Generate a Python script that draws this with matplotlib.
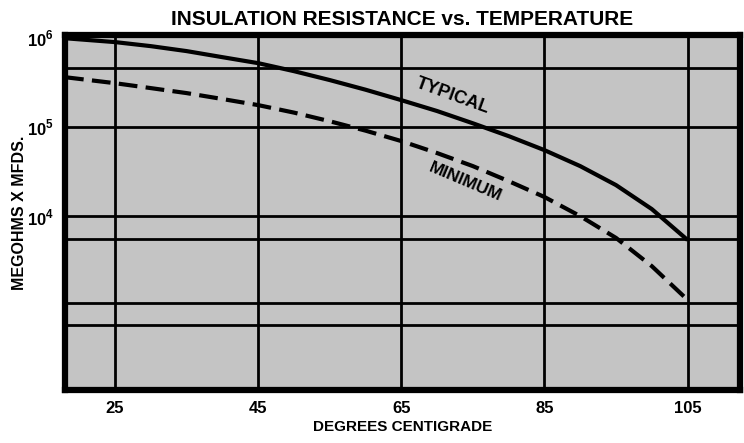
import numpy as np
import matplotlib
matplotlib.use('Agg')
import matplotlib.pyplot as plt

plt.rcParams['font.family'] = ['Liberation Sans', 'DejaVu Sans']
plt.rcParams['font.weight'] = 'bold'
plt.rcParams['mathtext.fontset'] = 'custom'
plt.rcParams['mathtext.rm'] = 'Liberation Sans:bold'
plt.rcParams['mathtext.bf'] = 'Liberation Sans:bold'

# readings (deg C vs megohms x mfds)
temp = [18, 25, 30, 35, 40, 45, 50, 55, 60, 65, 70, 75, 80, 85, 90, 95, 100, 105]
typical = [9.9e5, 8.96e5, 8.07e5, 7.1e5, 6.07e5, 5.2e5, 4.23e5, 3.36e5, 2.62e5,
           2.0e5, 1.51e5, 1.1e5, 7.9e4, 5.5e4, 3.64e4, 2.23e4, 1.2e4, 5.4e3]
minimum = [3.62e5, 3.1e5, 2.73e5, 2.4e5, 2.06e5, 1.76e5, 1.45e5, 1.16e5, 9.1e4,
           6.95e4, 5.1e4, 3.64e4, 2.47e4, 1.64e4, 1.0e4, 5.7e3, 2.75e3, 1.15e3]

xticks = [25, 45, 65, 85, 105]
yticks = [1e6, 1e5, 1e4]
yticklabels = [r'$10^{6}$', r'$10^{5}$', r'$10^{4}$']
hgrid = [4.6e5, 1e5, 1e4, 5.5e3, 1.05e3, 6e2]

fig = plt.figure(figsize=(7.44, 4.43), dpi=100)
ax = fig.add_axes([0.0874, 0.1196, 0.907, 0.801])
ax.set_facecolor('#c4c4c4')
ax.set_yscale('log')
ax.set_xlim(18.0, 112.3)
ax.set_ylim(10**2.05, 10**6.03)

for x in xticks:
    ax.axvline(x, color='black', lw=2.0, zorder=1)
for y in hgrid:
    ax.axhline(y, color='black', lw=2.0, zorder=1)

ax.plot(temp, typical, color='black', lw=3.0, solid_capstyle='butt', zorder=3)
ax.plot(temp, minimum, color='black', lw=3.0, dashes=(4.5, 2.0), zorder=3)

ax.text(72.1, 2.2e5, 'TYPICAL', rotation=-20, ha='center', va='center',
        fontsize=13, fontweight='bold', zorder=4)
ax.text(73.9, 2.4e4, 'MINIMUM', rotation=-23, ha='center', va='center',
        fontsize=12.5, fontweight='bold', zorder=4)

ax.set_xticks(xticks)
ax.set_xticklabels([str(t) for t in xticks], fontsize=12, fontweight='bold')
ax.set_yticks(yticks)
ax.set_yticklabels(yticklabels, fontsize=12)
ax.minorticks_off()
ax.tick_params(length=0, pad=8)

for s in ax.spines.values():
    s.set_linewidth(4.5)
    s.set_color('black')

ax.set_xlabel('DEGREES CENTIGRADE', fontsize=11, fontweight='bold', labelpad=3)
ax.set_ylabel('MEGOHMS X MFDS.', fontsize=11.5, fontweight='bold', labelpad=0)
ax.set_title('INSULATION RESISTANCE vs. TEMPERATURE', fontsize=15,
             fontweight='bold', pad=7)

plt.savefig('out.png', dpi=100)
plt.close()
